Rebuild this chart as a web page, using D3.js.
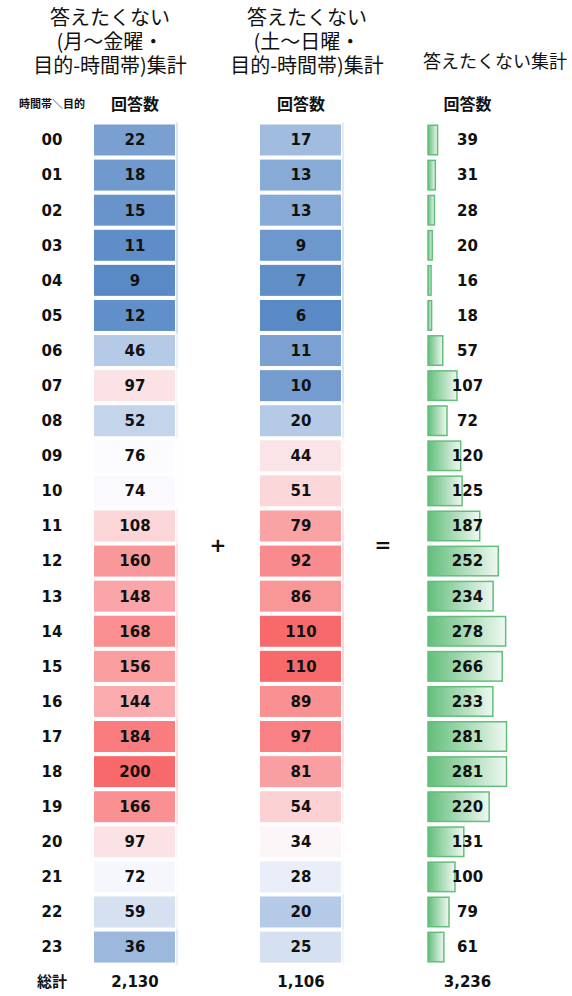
<!DOCTYPE html>
<html>

<head>
    <meta charset="UTF-8">
    <script src="https://d3js.org/d3.v7.min.js"></script>
    <style>
        body {
            margin: 0;
            background: #fff;
        }

        text {
            font-family: "DejaVu Sans", "Noto Sans CJK JP", sans-serif;
            fill: #111;
        }

        .jp {
            font-family: "Noto Sans CJK JP", sans-serif;
        }
    </style>
</head>

<body>
    <svg></svg>

    <script>

        let width = 572, height = 996;

        // data
        let hours = ["00", "01", "02", "03", "04", "05", "06", "07", "08", "09", "10", "11",
            "12", "13", "14", "15", "16", "17", "18", "19", "20", "21", "22", "23"];
        let weekday = [22, 18, 15, 11, 9, 12, 46, 97, 52, 76, 74, 108,
            160, 148, 168, 156, 144, 184, 200, 166, 97, 72, 59, 36];
        let weekend = [17, 13, 13, 9, 7, 6, 11, 10, 20, 44, 51, 79,
            92, 86, 110, 110, 89, 97, 81, 54, 34, 28, 20, 25];
        let combined = [39, 31, 28, 20, 16, 18, 57, 107, 72, 120, 125, 187,
            252, 234, 278, 266, 233, 281, 281, 220, 131, 100, 79, 61];
        let totals = ["2,130", "1,106", "3,236"];
        let titles = [
            ["答えたくない", "(月～金曜・", "目的-時間帯)集計"],
            ["答えたくない", "(土～日曜・", "目的-時間帯)集計"],
            ["答えたくない集計"]
        ];

        let svg = d3.select("svg")
            .attr("width", width)
            .attr("height", height);

        let y = d3.scaleBand()
            .domain(hours)
            .range([122.46, 122.46 + 24 * 35.09])
            .paddingInner(0.1166)
            .paddingOuter(0.0583);

        // excel style 3 colour scale: min / 50th percentile / max
        function colorScale(values) {
            return d3.scaleLinear()
                .domain([d3.min(values), d3.median(values), d3.max(values)])
                .range(["#5A8AC6", "#FCFCFF", "#F8696B"])
                .interpolate(d3.interpolateRgb);
        }

        let heatCols = [
            { values: weekday, x0: 94, w: 81, cx: 135 },
            { values: weekend, x0: 260, w: 81, cx: 301 }
        ];

        heatCols.forEach(col => {
            let color = colorScale(col.values);
            let g = svg.append("g");

            g.selectAll("rect.cell")
                .data(col.values)
                .enter().append("rect")
                .attr("class", "cell")
                .attr("x", col.x0)
                .attr("y", (d, i) => y(hours[i]))
                .attr("width", col.w)
                .attr("height", y.bandwidth())
                .attr("fill", d => color(d));

            // faint edge line right of the cells
            g.selectAll("rect.edge")
                .data(col.values)
                .enter().append("rect")
                .attr("class", "edge")
                .attr("x", col.x0 + col.w + 1.5)
                .attr("y", (d, i) => y(hours[i]) - 2)
                .attr("width", 1)
                .attr("height", y.step())
                .attr("fill", d => color(d))
                .attr("opacity", 0.55);

            g.selectAll("text")
                .data(col.values)
                .enter().append("text")
                .attr("x", col.cx)
                .attr("y", (d, i) => y(hours[i]) + y.bandwidth() / 2)
                .attr("dy", "0.36em")
                .attr("text-anchor", "middle")
                .attr("font-size", "15px")
                .attr("font-weight", "bold")
                .text(d => d);
        });

        // data bars
        let defs = svg.append("defs");
        let grad = defs.append("linearGradient")
            .attr("id", "greenGrad")
            .attr("x1", "0%").attr("x2", "100%")
            .attr("y1", "0%").attr("y2", "0%");
        grad.append("stop").attr("offset", "0%").attr("stop-color", "#63BE7B");
        grad.append("stop").attr("offset", "100%").attr("stop-color", "#EFF8F1");

        let xBar = d3.scaleLinear()
            .domain([0, d3.max(combined)])
            .range([0, 80]);

        let bars = svg.append("g");
        bars.selectAll("rect")
            .data(combined)
            .enter().append("rect")
            .attr("x", 428)
            .attr("y", (d, i) => y(hours[i]) + 0.75)
            .attr("width", d => xBar(d) - 1.5)
            .attr("height", y.bandwidth() - 1.5)
            .attr("fill", "url(#greenGrad)")
            .attr("stroke", "#63BE7B")
            .attr("stroke-width", 1.5);

        bars.selectAll("text")
            .data(combined)
            .enter().append("text")
            .attr("x", 467.5)
            .attr("y", (d, i) => y(hours[i]) + y.bandwidth() / 2)
            .attr("dy", "0.36em")
            .attr("text-anchor", "middle")
            .attr("font-size", "15px")
            .attr("font-weight", "bold")
            .text(d => d);

        // row labels
        svg.append("g").selectAll("text")
            .data(hours)
            .enter().append("text")
            .attr("x", 52)
            .attr("y", d => y(d) + y.bandwidth() / 2)
            .attr("dy", "0.36em")
            .attr("text-anchor", "middle")
            .attr("font-size", "15px")
            .attr("font-weight", "bold")
            .text(d => d);

        // header row
        svg.append("text")
            .attr("class", "jp")
            .attr("x", 52).attr("y", 104)
            .attr("dy", "0.36em")
            .attr("text-anchor", "middle")
            .attr("font-size", "11px")
            .attr("font-weight", "bold")
            .text("時間帯＼目的");

        [135, 301, 467.5].forEach(cx => {
            svg.append("text")
                .attr("class", "jp")
                .attr("x", cx).attr("y", 104)
                .attr("dy", "0.36em")
                .attr("text-anchor", "middle")
                .attr("font-size", "16px")
                .attr("font-weight", "bold")
                .text("回答数");
        });

        // titles (one text element per column, lines as tspans)
        let titlePos = [
            { cx: 110, y0: 18, size: 20 },
            { cx: 307, y0: 18, size: 20 },
            { cx: 495, y0: 62, size: 18 }
        ];
        titles.forEach((lines, k) => {
            let t = svg.append("text")
                .attr("class", "jp")
                .attr("text-anchor", "middle")
                .attr("font-size", titlePos[k].size + "px");
            lines.forEach((s, j) => {
                t.append("tspan")
                    .attr("x", titlePos[k].cx)
                    .attr("y", titlePos[k].y0 + j * 24)
                    .attr("dy", "0.36em")
                    .text(s);
            });
        });

        // total row
        svg.append("text")
            .attr("class", "jp")
            .attr("x", 52).attr("y", 982)
            .attr("dy", "0.36em")
            .attr("text-anchor", "middle")
            .attr("font-size", "15px")
            .attr("font-weight", "bold")
            .text("総計");

        [135, 301, 467.5].forEach((cx, i) => {
            svg.append("text")
                .attr("x", cx).attr("y", 982)
                .attr("dy", "0.36em")
                .attr("text-anchor", "middle")
                .attr("font-size", "15px")
                .attr("font-weight", "bold")
                .text(totals[i]);
        });

        // + and =
        svg.append("text")
            .attr("x", 218).attr("y", 545)
            .attr("dy", "0.36em")
            .attr("text-anchor", "middle")
            .attr("font-size", "20px")
            .attr("font-weight", "bold")
            .text("+");
        svg.append("text")
            .attr("x", 383).attr("y", 545)
            .attr("dy", "0.36em")
            .attr("text-anchor", "middle")
            .attr("font-size", "20px")
            .attr("font-weight", "bold")
            .text("=");

    </script>

</body>

</html>
